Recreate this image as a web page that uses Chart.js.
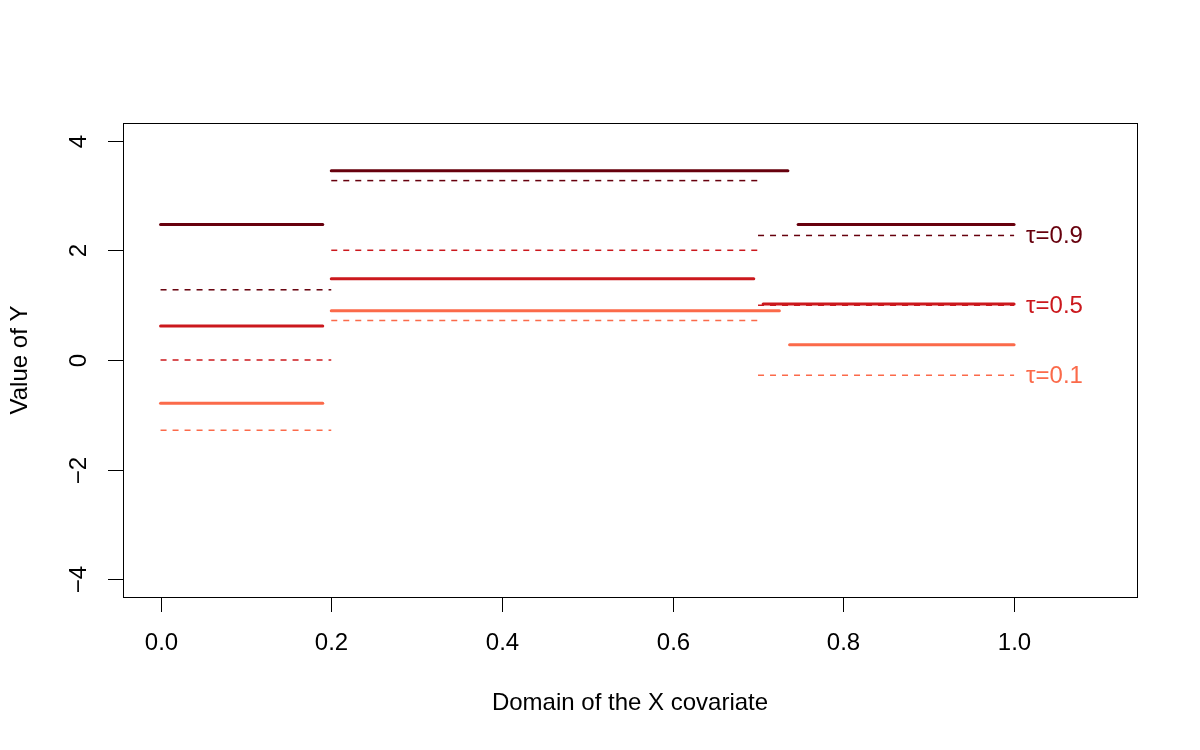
<!DOCTYPE html>
<html>
<head>
<meta charset="utf-8">
<script src="https://cdn.jsdelivr.net/npm/chart.js@4.4.1/dist/chart.umd.min.js"></script>
<style>
  html, body { margin: 0; padding: 0; background: #fff; }
  #wrap { width: 1200px; height: 750px; }
</style>
</head>
<body>
<div id="wrap"><canvas id="quantChart" width="1200" height="750"></canvas></div>
<script>
// tau levels and their labels
const tauLevels = [0.9, 0.5, 0.1];
const tauLabels = ['τ=0.9', 'τ=0.5', 'τ=0.1'];

// estimated step functions (solid): [xStart, xEnd, y]
const est09 = [[0, 0.19, 2.47], [0.2, 0.735, 3.45], [0.747, 1.0, 2.47]];
const est05 = [[0, 0.19, 0.62], [0.2, 0.695, 1.48], [0.706, 1.0, 1.02]];
const est01 = [[0, 0.19, -0.79], [0.2, 0.725, 0.90], [0.737, 1.0, 0.28]];

// true quantile functions (dashed): [xStart, xEnd, y]
const true09 = [[0, 0.2, 1.28], [0.2, 0.7, 3.27], [0.7, 1.0, 2.27]];
const true05 = [[0, 0.2, 0.0], [0.2, 0.7, 2.0], [0.7, 1.0, 1.0]];
const true01 = [[0, 0.2, -1.28], [0.2, 0.7, 0.72], [0.7, 1.0, -0.28]];

// axis ticks
const xTicks = [0.0, 0.2, 0.4, 0.6, 0.8, 1.0];
const xTickLabels = ['0.0', '0.2', '0.4', '0.6', '0.8', '1.0'];
const yTicks = [-4, -2, 0, 2, 4];
const yTickLabels = ['\u22124', '\u22122', '0', '2', '4'];

const tauColors = ['#67000D', '#CB181D', '#FB6A4A'];
const estSets = [est09, est05, est01];
const trueSets = [true09, true05, true01];
const FONT = '"Liberation Sans", Arial, Helvetica, sans-serif';

const datasets = [];
trueSets.forEach((segs, i) => {
    segs.forEach(s => {
        datasets.push({
            data: [{ x: s[0], y: s[2] }, { x: s[1], y: s[2] }],
            borderColor: tauColors[i],
            borderWidth: 1.5,
            borderDash: [6, 6],
            pointRadius: 0,
            fill: false
        });
    });
});
estSets.forEach((segs, i) => {
    segs.forEach(s => {
        datasets.push({
            data: [{ x: s[0], y: s[2] }, { x: s[1], y: s[2] }],
            borderColor: tauColors[i],
            borderWidth: 3,
            borderCapStyle: 'round',
            pointRadius: 0,
            fill: false
        });
    });
});

const rAxes = {
    id: 'rAxes',
    afterDraw(chart) {
        const { ctx, chartArea: a, scales: { x, y } } = chart;
        ctx.save();
        ctx.strokeStyle = '#000';
        ctx.lineWidth = 1;
        ctx.strokeRect(a.left + 0.5, a.top + 0.5, a.right - a.left, a.bottom - a.top);

        ctx.fillStyle = '#000';
        ctx.font = '24px ' + FONT;
        ctx.textAlign = 'center';
        ctx.textBaseline = 'middle';
        xTicks.forEach((v, i) => {
            const px = Math.round(x.getPixelForValue(v)) + 0.5;
            ctx.beginPath();
            ctx.moveTo(px, a.bottom);
            ctx.lineTo(px, a.bottom + 15);
            ctx.stroke();
            ctx.fillText(xTickLabels[i], px, a.bottom + 46);
        });
        yTicks.forEach((v, i) => {
            const py = Math.round(y.getPixelForValue(v)) + 0.5;
            ctx.beginPath();
            ctx.moveTo(a.left, py);
            ctx.lineTo(a.left - 15, py);
            ctx.stroke();
            ctx.save();
            ctx.translate(a.left - 44, py);
            ctx.rotate(-Math.PI / 2);
            ctx.fillText(yTickLabels[i], 0, 0);
            ctx.restore();
        });

        ctx.fillText('Domain of the X covariate', (a.left + a.right) / 2, 703);
        ctx.save();
        ctx.translate(20, (a.top + a.bottom) / 2);
        ctx.rotate(-Math.PI / 2);
        ctx.fillText('Value of Y', 0, 0);
        ctx.restore();

        // tau labels at the right end of the true quantile lines
        ctx.textAlign = 'left';
        trueSets.forEach((segs, i) => {
            const last = segs[segs.length - 1];
            ctx.fillStyle = tauColors[i];
            ctx.fillText(tauLabels[i], x.getPixelForValue(last[1]) + 12, y.getPixelForValue(last[2]) + 1);
        });
        ctx.restore();
    }
};

new Chart(document.getElementById('quantChart').getContext('2d'), {
    type: 'line',
    data: { datasets: datasets },
    options: {
        responsive: false,
        animation: false,
        layout: { padding: { left: 123, top: 123, right: 63, bottom: 153 } },
        scales: {
            x: { type: 'linear', min: -0.044, max: 1.144, display: false },
            y: { type: 'linear', min: -4.32, max: 4.32, display: false }
        },
        plugins: {
            legend: { display: false },
            tooltip: { enabled: false }
        }
    },
    plugins: [rAxes]
});
</script>
</body>
</html>
